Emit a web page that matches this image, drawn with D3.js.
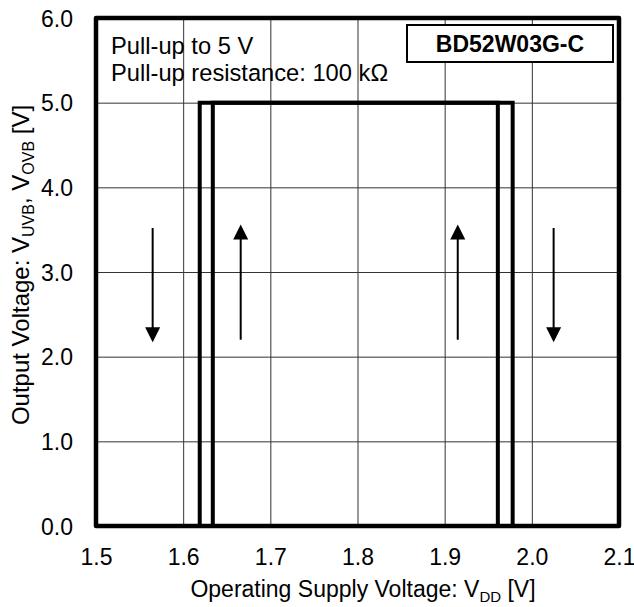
<!DOCTYPE html>
<html>
<head>
<meta charset="utf-8">
<script src="https://cdn.jsdelivr.net/npm/d3@7"></script>
<style>
  html, body { margin: 0; padding: 0; background: #fff; }
  svg { display: block; font-family: "Liberation Sans", Arial, Helvetica, sans-serif; }
</style>
</head>
<body>
<svg id="chart" width="634" height="607"></svg>
<script>
// ---- data ----
const xTicks = [1.5, 1.6, 1.7, 1.8, 1.9, 2.0, 2.1];
const yTicks = [0, 1, 2, 3, 4, 5, 6];
const xTickLabels = ["1.5", "1.6", "1.7", "1.8", "1.9", "2.0", "2.1"];
const yTickLabels = ["0.0", "1.0", "2.0", "3.0", "4.0", "5.0", "6.0"];
// VDD rising sweep: output goes high at 1.634 V (UVLO release), low at 1.978 V (OVP detect)
const risingVdd = [1.5, 1.634, 1.634, 1.978, 1.978, 2.1];
const risingOut = [0, 0, 5.0, 5.0, 0, 0];
// VDD falling sweep: output goes high at 1.961 V (OVP release), low at 1.619 V (UVLO detect)
const fallingVdd = [2.1, 1.961, 1.961, 1.619, 1.619, 1.5];
const fallingOut = [0, 0, 5.0, 5.0, 0, 0];
// arrows: [x, yStart, yEnd]
const arrowX = [1.565, 1.666, 1.915, 2.025];
const arrowFrom = [3.52, 2.2, 2.2, 3.52];
const arrowTo = [2.17, 3.56, 3.56, 2.17];
const noteLines = ["Pull-up to 5 V", "Pull-up resistance: 100 k\u03A9"];
const partName = "BD52W03G-C";

// ---- layout ----
const svg = d3.select("#chart");
const L = 96, R = 619, T = 18, B = 526;
const x = d3.scaleLinear().domain([1.5, 2.1]).range([L, R]);
const y = d3.scaleLinear().domain([0, 6]).range([B, T]);
const FS = 23;

// gridlines via axes
svg.append("g")
  .attr("transform", `translate(0,${B})`)
  .call(d3.axisBottom(x).tickValues(xTicks.slice(1, -1)).tickSize(-(B - T)).tickFormat(""))
  .call(g => g.select(".domain").remove())
  .call(g => g.selectAll("line").attr("stroke", "#333").attr("stroke-width", 1));
svg.append("g")
  .attr("transform", `translate(${L},0)`)
  .call(d3.axisLeft(y).tickValues(yTicks.slice(1, -1)).tickSize(-(R - L)).tickFormat(""))
  .call(g => g.select(".domain").remove())
  .call(g => g.selectAll("line").attr("stroke", "#333").attr("stroke-width", 1));

// tick labels via axes
svg.append("g")
  .attr("transform", `translate(0,${B})`)
  .call(d3.axisBottom(x).tickValues(xTicks).tickSize(0).tickPadding(0)
    .tickFormat((d, i) => xTickLabels[i]))
  .call(g => g.select(".domain").remove())
  .call(g => g.selectAll("text")
    .attr("dy", null).attr("y", 39)
    .attr("font-size", FS).attr("font-family", "Liberation Sans, Arial, sans-serif")
    .attr("fill", "#000"));
svg.append("g")
  .attr("transform", `translate(${L},0)`)
  .call(d3.axisLeft(y).tickValues(yTicks).tickSize(0).tickPadding(0)
    .tickFormat((d, i) => yTickLabels[i]))
  .call(g => g.select(".domain").remove())
  .call(g => g.selectAll("text")
    .attr("x", -23).attr("dy", "0.36em")
    .attr("font-size", FS).attr("font-family", "Liberation Sans, Arial, sans-serif")
    .attr("fill", "#000"));

// curves
const line = d3.line().x(d => x(d[0])).y(d => y(d[1]));
const rising = risingVdd.map((v, i) => [v, risingOut[i]]);
const falling = fallingVdd.map((v, i) => [v, fallingOut[i]]);
[rising, falling].forEach(data => {
  svg.append("path")
    .attr("d", line(data))
    .attr("fill", "none")
    .attr("stroke", "#000")
    .attr("stroke-width", 4)
    .attr("stroke-linejoin", "miter");
});

// frame
svg.append("rect")
  .attr("x", L).attr("y", T).attr("width", R - L).attr("height", B - T)
  .attr("fill", "none").attr("stroke", "#000").attr("stroke-width", 4.5)
  .attr("stroke-linejoin", "round");

// arrows
const HL = 15, HW = 7.5;
arrowX.forEach((ax, i) => {
  const px = x(ax), y0 = y(arrowFrom[i]), y1 = y(arrowTo[i]);
  const dir = y1 > y0 ? 1 : -1;
  svg.append("line")
    .attr("x1", px).attr("x2", px)
    .attr("y1", y0).attr("y2", y1 - dir * HL * 0.8)
    .attr("stroke", "#000").attr("stroke-width", 2);
  svg.append("path")
    .attr("d", `M${px},${y1} L${px - HW},${y1 - dir * HL} L${px + HW},${y1 - dir * HL} Z`)
    .attr("fill", "#000");
});

// note text
noteLines.forEach((t, i) => {
  svg.append("text")
    .attr("x", 111).attr("y", 54 + i * 27)
    .attr("font-size", 23.7).attr("fill", "#000")
    .text(t);
});

// part name box
svg.append("rect")
  .attr("x", 407).attr("y", 25).attr("width", 206).attr("height", 37)
  .attr("fill", "#fff").attr("stroke", "#000").attr("stroke-width", 2);
svg.append("text")
  .attr("x", 510).attr("y", 52)
  .attr("text-anchor", "middle")
  .attr("font-size", FS).attr("font-weight", "bold").attr("fill", "#000")
  .text(partName);

// x axis title
const xt = svg.append("text")
  .attr("x", 363).attr("y", 597)
  .attr("text-anchor", "middle")
  .attr("font-size", FS).attr("fill", "#000");
xt.append("tspan").text("Operating Supply Voltage: V");
xt.append("tspan").attr("font-size", 15).attr("dy", 5).text("DD");
xt.append("tspan").attr("dy", -5).text(" [V]");

// y axis title
const yt = svg.append("text")
  .attr("transform", `translate(29,${265}) rotate(-90)`)
  .attr("text-anchor", "middle")
  .attr("font-size", 24).attr("fill", "#000");
yt.append("tspan").text("Output Voltage: V");
yt.append("tspan").attr("font-size", 16).attr("dy", 5).text("UVB");
yt.append("tspan").attr("dy", -5).text(", V");
yt.append("tspan").attr("font-size", 16).attr("dy", 5).text("OVB");
yt.append("tspan").attr("dy", -5).text(" [V]");
</script>
</body>
</html>
